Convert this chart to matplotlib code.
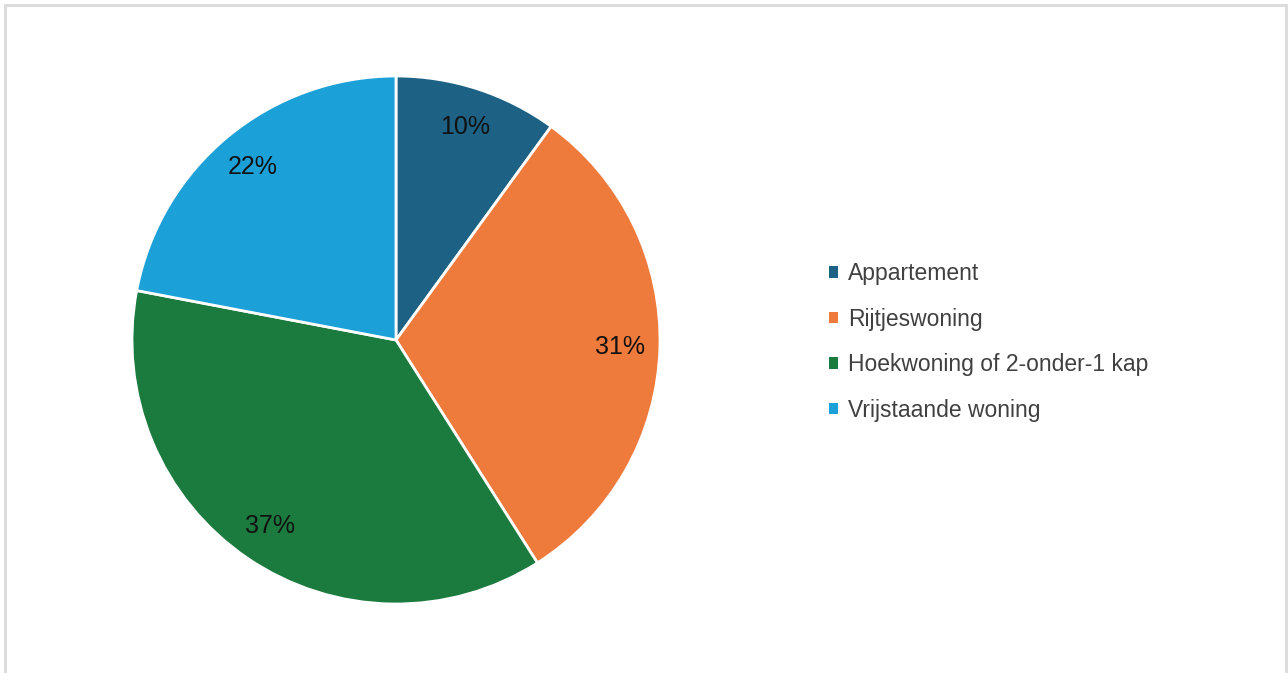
import matplotlib.pyplot as plt
from matplotlib.patches import Patch, Rectangle

labels = ["Appartement", "Rijtjeswoning", "Hoekwoning of 2-onder-1 kap", "Vrijstaande woning"]
values = [10, 31, 37, 22]
colors = ["#1d6284", "#ee7a3c", "#1b7a3e", "#1ca0d8"]

plt.rcParams['font.family'] = ['Liberation Sans', 'DejaVu Sans']

fig = plt.figure(figsize=(12.88, 6.73), dpi=100)

# light grey frame round the chart
fig.patches.append(Rectangle((5 / 1288, -0.05), 1281 / 1288, 1.05 - 5 / 673,
                             transform=fig.transFigure, fill=False,
                             edgecolor='#dcdcdc', lw=2.2))

ax = fig.add_axes([132 / 1288, 69 / 673, 528 / 1288, 528 / 673])
wedges, texts, autotexts = ax.pie(values, colors=colors, startangle=90, counterclock=False,
                                  autopct='%1.0f%%', pctdistance=0.85,
                                  wedgeprops=dict(edgecolor='white', linewidth=2),
                                  textprops=dict(fontsize=18, color='#111111'))
ax.set_xlim(-1, 1)
ax.set_ylim(-1, 1)
ax.set_aspect('equal')

handles = [Patch(facecolor=c, edgecolor='none') for c in colors]
fig.legend(handles, labels, loc='center left', bbox_to_anchor=(829 / 1288, 1 - 342 / 673),
           frameon=False, fontsize=16.5, handlelength=0.38, handleheight=0.38,
           handletextpad=0.45, labelspacing=0.98, borderpad=0, borderaxespad=0,
           labelcolor='#404040')

fig.savefig('out.png', dpi=100)
